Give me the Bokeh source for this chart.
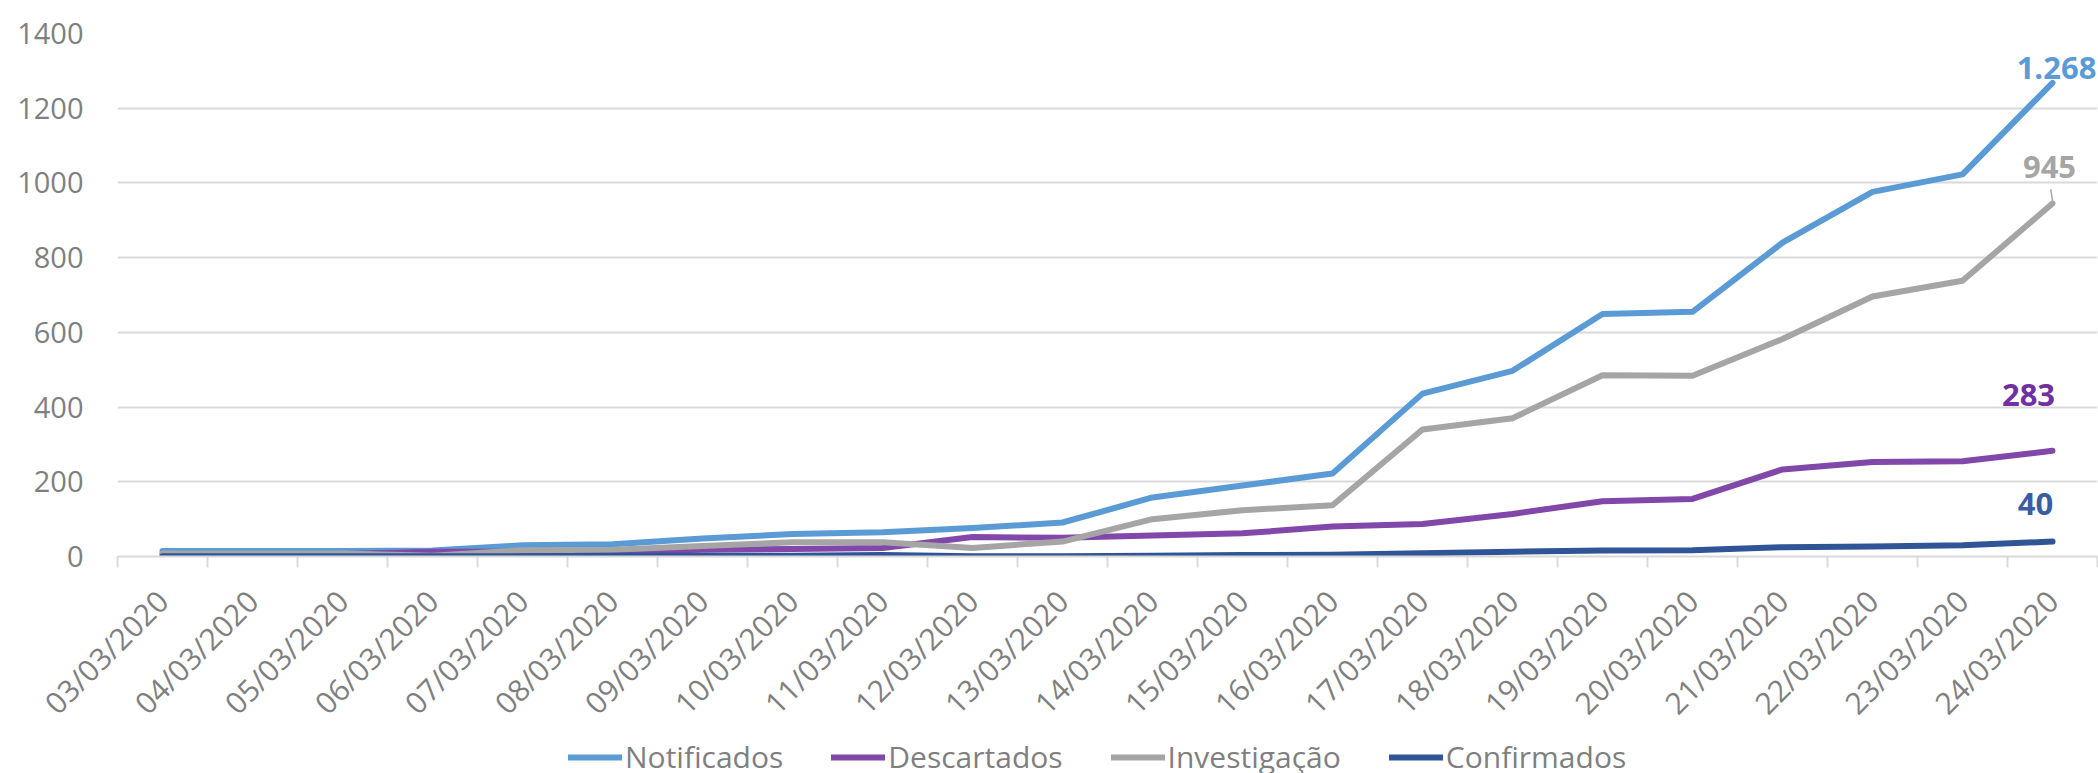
import math
from bokeh.plotting import figure
from bokeh.layouts import column
from bokeh.models import Range1d, FixedTicker, Legend, LegendItem, Label
from bokeh.embed import file_html
from bokeh.resources import INLINE

# ---- data ----
dates = ["03/03/2020", "04/03/2020", "05/03/2020", "06/03/2020", "07/03/2020",
         "08/03/2020", "09/03/2020", "10/03/2020", "11/03/2020", "12/03/2020",
         "13/03/2020", "14/03/2020", "15/03/2020", "16/03/2020", "17/03/2020",
         "18/03/2020", "19/03/2020", "20/03/2020", "21/03/2020", "22/03/2020",
         "23/03/2020", "24/03/2020"]
notificados = [15, 15, 15, 16, 30, 33, 48, 60, 65, 76, 91, 158, 190, 222, 436,
               497, 649, 655, 840, 976, 1023, 1268]
descartados = [6, 6, 7, 13, 13, 13, 18, 20, 23, 52, 50, 56, 62, 80, 87,
               114, 148, 154, 233, 253, 255, 283]
investigacao = [8, 8, 8, 2, 17, 18, 28, 38, 38, 23, 40, 100, 124, 137, 340,
                370, 485, 484, 582, 696, 738, 945]
confirmados = [1, 1, 1, 1, 1, 2, 2, 2, 4, 1, 1, 2, 4, 5, 9,
               13, 16, 17, 25, 27, 30, 40]
y_ticks = [0, 200, 400, 600, 800, 1000, 1200, 1400]

series = [
    ("Notificados", notificados, "#5B9BD5", "#5B9BD5", (4, 15)),
    ("Descartados", descartados, "#8147A9", "#7030A0", (-24, 56)),
    ("Investigação", investigacao, "#A5A5A5", "#A5A5A5", (-3, 36)),
    ("Confirmados", confirmados, "#2F5597", "#3A5DA0", (-17, 38)),
]

FONT = "Open Sans"
GRAY = "#7F7F7F"
GRID = "#D9D9D9"

n = len(dates)
xs = [i + 0.5 for i in range(n)]

W = 2098
H1 = 742
H2 = 31
p = figure(width=W, height=H1, x_range=Range1d(0, n), y_range=Range1d(0, 1400),
           output_backend="svg", toolbar_location=None,
           min_border_left=117, min_border_right=1, min_border_top=33,
           min_border_bottom=H1 - 556)
p.outline_line_color = None
p.background_fill_color = "white"
p.border_fill_color = "white"

# y axis
p.yaxis.ticker = FixedTicker(ticks=y_ticks)
p.yaxis.axis_line_color = None
p.yaxis.major_tick_line_color = None
p.yaxis.major_tick_out = 0
p.yaxis.major_tick_in = 0
p.yaxis.minor_tick_line_color = None
p.yaxis.minor_tick_out = 0
p.yaxis.major_label_text_font = FONT
p.yaxis.major_label_text_font_size = "29px"
p.yaxis.major_label_text_color = GRAY
p.yaxis.major_label_standoff = 34

# x axis
p.xaxis.ticker = FixedTicker(ticks=xs, minor_ticks=list(range(n + 1)))
p.xaxis.major_label_overrides = {x: d for x, d in zip(xs, dates)}
p.xaxis.axis_line_color = GRID
p.xaxis.axis_line_width = 2
p.xaxis.major_tick_line_color = None
p.xaxis.major_tick_out = 0
p.xaxis.major_tick_in = 0
p.xaxis.minor_tick_line_color = GRID
p.xaxis.minor_tick_line_width = 2
p.xaxis.minor_tick_out = 11
p.xaxis.minor_tick_in = 0
p.xaxis.major_label_orientation = math.pi / 4
p.xaxis.major_label_text_font = FONT
p.xaxis.major_label_text_font_size = "30px"
p.xaxis.major_label_text_color = GRAY
p.xaxis.major_label_standoff = 28

p.xgrid.grid_line_color = None
p.ygrid.grid_line_color = GRID
p.ygrid.grid_line_width = 2

for name, vals, col, lcol, (dx, dy) in series:
    p.line(xs, vals, line_color=col, line_width=6, line_join="round", line_cap="round")
    txt = f"{vals[-1]:,}".replace(",", ".")
    p.add_layout(Label(x=xs[-1], y=vals[-1], text=txt, x_offset=dx, y_offset=dy,
                       text_align="center", text_baseline="middle",
                       text_font=FONT, text_font_style="bold", text_font_size="31px",
                       text_color=lcol))

# leader line for the "945" label
px = 1400 / 523.0
p.segment(x0=[xs[-1]], y0=[investigacao[-1] + 3 * px], x1=[xs[-1] - 0.02],
          y1=[investigacao[-1] + 14 * px], line_color="#A5A5A5", line_width=1.5)

# legend strip (separate canvas directly under the chart; its frame aligns with p's)
p2 = figure(width=W, height=H2, x_range=Range1d(0, 1), y_range=Range1d(0, 1),
            output_backend="svg", toolbar_location=None,
            min_border_left=117, min_border_right=1, min_border_top=0,
            min_border_bottom=0)
p2.axis.visible = False
p2.grid.visible = False
p2.outline_line_color = None
p2.border_fill_color = "white"
p2.background_fill_color = "white"

items = []
for name, vals, col, lcol, _ in series:
    # stand-in renderer (outside the visible range) that supplies the legend swatch
    r = p2.line([-10, -9], [-10, -10], line_color=col, line_width=6, line_cap="round")
    items.append(LegendItem(label=name, renderers=[r]))

legend = Legend(items=items, orientation="horizontal", location=(451, -4),
                padding=0, margin=0, spacing=48, border_line_color=None,
                background_fill_alpha=0, glyph_width=54, glyph_height=20,
                label_standoff=3, label_text_font=FONT, label_text_font_size="30px",
                label_text_color=GRAY)
p2.add_layout(legend)

open("out.html", "w").write(file_html(column(p, p2, spacing=0), INLINE))
